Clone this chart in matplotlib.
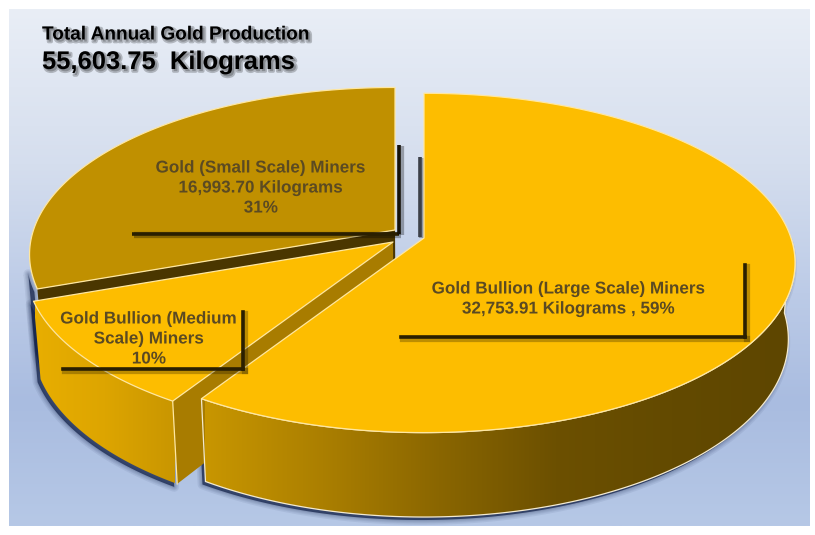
import numpy as np
import matplotlib
matplotlib.use("Agg")
import matplotlib.pyplot as plt
import matplotlib.patheffects as pe
from matplotlib.colors import LinearSegmentedColormap
from matplotlib.patches import Polygon

# production in kilograms, clockwise from twelve o'clock
miners = ["large", "medium", "small"]
kilograms = [32753.91, 5856.14, 16993.70]
title_lines = ["Total Annual Gold Production", "55,603.75  Kilograms"]
small_label = ["Gold (Small Scale) Miners", "16,993.70 Kilograms", "31%"]
medium_label = ["Gold Bullion (Medium", "Scale) Miners", "10%"]
large_label = ["Gold Bullion (Large Scale) Miners", "32,753.91 Kilograms , 59%"]

plt.rcParams["font.family"] = ["Liberation Sans", "DejaVu Sans"]

# perspective of the pie disc, in pixels
RX, RY, PERSP = 367.0, 166.0, 0.147
DEPTH = 75.0
SHRINK = 0.982
APEX = {"large": (424, 238), "medium": (393, 242), "small": (395, 230)}
SCALE = {"large": 1.0, "medium": 0.99, "small": 0.985}
PIVOT_X = 424

fig = plt.figure(figsize=(8.15, 5.35), dpi=100)
ax = fig.add_axes([0, 0, 1, 1])
ax.set_xlim(0, 815)
ax.set_ylim(535, 0)
ax.axis("off")


def top_pts(name, deg):
    apex, k = APEX[name], SCALE[name]
    a = np.radians(deg)
    x, y = np.sin(a), np.cos(a)
    w = 1 + PERSP * y
    return apex[0] + k * RX * x / w, apex[1] - k * RY * y / w


def bottom_pts(name, deg):
    apex = APEX[name]
    a = np.radians(deg)
    w = 1 + PERSP * np.cos(a)
    sx, sy = top_pts(name, deg)
    return PIVOT_X + SHRINK * (sx - PIVOT_X), sy - 0.018 * (sy - apex[1]) + DEPTH / w


def top_poly(name, a0, a1):
    sx, sy = top_pts(name, np.linspace(a0, a1, 200))
    return np.vstack([[APEX[name]], np.column_stack([sx, sy])])


def wall_poly(name, a0, a1):
    deg = np.linspace(a0, a1, 200)
    tx, ty = top_pts(name, deg)
    bx, by = bottom_pts(name, deg)
    return np.vstack([np.column_stack([tx, ty]), np.column_stack([bx, by])[::-1]])


def cut_poly(name, deg):
    apex = APEX[name]
    tx, ty = top_pts(name, deg)
    bx, by = bottom_pts(name, deg)
    a_bx = PIVOT_X + SHRINK * (apex[0] - PIVOT_X)
    a_by = apex[1] + DEPTH
    return np.array([apex, (tx, ty), (bx, by), (a_bx, a_by)])


def soft_shadow(pts, dx=-3, dy=3, color="#14234a"):
    moved = pts + np.array([dx, dy])
    for lw in [7, 5, 3.5, 2, 1]:
        ax.add_patch(Polygon(moved, closed=True, fc="none", ec=color, lw=lw,
                             alpha=0.07, joinstyle="round", zorder=1))
    ax.add_patch(Polygon(moved, closed=True, fc=color, ec="none", alpha=0.75, zorder=1))


def gradient_fill(pts, colors, x0, x1, z, edge=None):
    cmap = LinearSegmentedColormap.from_list("wall", colors)
    patch = Polygon(pts, closed=True, fc="none", ec="none")
    ax.add_patch(patch)
    im = ax.imshow(np.linspace(0, 1, 256)[None, :], cmap=cmap, aspect="auto",
                   extent=[x0, x1, 535, 0], zorder=z)
    im.set_clip_path(patch)
    if edge:
        ax.add_patch(Polygon(pts, closed=True, fc="none", ec=edge, lw=0.9, zorder=z))


def flat(pts, color, z, edge="#ffe7a0", lw=0.9):
    ax.add_patch(Polygon(pts, closed=True, fc=color, ec=edge, lw=lw, zorder=z,
                         joinstyle="round"))


# page background with white frame
bg_cmap = LinearSegmentedColormap.from_list(
    "bg", [(0, "#e9eef6"), (0.3, "#d5deee"), (0.55, "#bccbe7"),
           (0.76, "#a9bce0"), (1, "#b6c8e6")])
ax.imshow(np.linspace(0, 1, 256)[:, None], cmap=bg_cmap, aspect="auto",
          extent=[9, 810, 526, 9], zorder=0)

# sweep of each slice, worked out from the kilograms
total = sum(kilograms)
edges = np.concatenate([[0], np.cumsum(kilograms) / total * 360])
sweep = {name: (edges[i], edges[i + 1]) for i, name in enumerate(miners)}

# drop shadows under the walls that face the viewer
soft_shadow(wall_poly("small", sweep["small"][0], 256))
soft_shadow(wall_poly("medium", *sweep["medium"]))
soft_shadow(wall_poly("large", 90, sweep["large"][1]))

# small slice: cut face first, then its top
a0, a1 = sweep["small"]
ax.add_patch(Polygon(cut_poly("small", a0), closed=True, fc="#4a3600", ec="none", zorder=1.4))
flat(top_poly("small", a0, a1), "#c09000", 1.45)

# callout for the small slice sits under the next slices
for xs, ys, col, z in [
    ([420, 420], [157, 237], "#3c4048", 1.3),
    ([132, 399], [234, 234], "#2a1f00", 1.47),
    ([399, 399], [145, 234], "#15120a", 1.47),
]:
    ax.plot(xs, ys, color=col, lw=2.6, zorder=z, solid_capstyle="butt",
            path_effects=[pe.Stroke(offset=(1.5, -1), linewidth=4.5,
                                    foreground="#000000", alpha=0.3), pe.Normal()])

# medium slice
a0, a1 = sweep["medium"]
gradient_fill(wall_poly("medium", a0, a1), ["#c99600", "#dda500", "#e8ae00"], 175, 35, 1.5)
ax.add_patch(Polygon(cut_poly("medium", a0), closed=True, fc="#a87c00", ec="none", zorder=1.55))
tx, ty = top_pts("medium", a0)
bx, by = bottom_pts("medium", a0)
ax.plot([tx, bx], [ty, by], color="#ffe7a0", lw=0.9, zorder=1.6)
flat(top_poly("medium", a0, a1), "#fdbd00", 1.7)

# large slice
a0, a1 = sweep["large"]
gradient_fill(wall_poly("large", 90, a1),
              ["#5e4600", "#634a00", "#6c5000", "#8a6600", "#ab7f00", "#c89600"],
              790, 205, 1.8, edge="#f3ead0")
flat(top_poly("large", a0, a1), "#fdbd00", 2)


def shadow_text(x, y, s, size, color, shadow_alpha=0.0, ha="center"):
    effects = [pe.Normal()]
    if shadow_alpha:
        effects.insert(0, pe.Stroke(offset=(1.5, -1.5), linewidth=2.5,
                                    foreground="#000000", alpha=shadow_alpha))
    ax.text(x, y, s, fontsize=size, fontweight="bold", color=color, ha=ha, va="center",
            zorder=5, path_effects=effects)


# callouts on the front slices
for xs, ys in [([63, 243], [369, 369]), ([243, 243], [312, 369]),
               ([401, 745], [337, 337]), ([745, 745], [265, 337])]:
    ax.plot(xs, ys, color="#2a1f00", lw=2.6, zorder=3, solid_capstyle="projecting",
            path_effects=[pe.Stroke(offset=(1.5, -1.5), linewidth=4.5,
                                    foreground="#000000", alpha=0.25), pe.Normal()])

label_color = "#5b4a22"
for y, line in zip([168, 188, 208], small_label):
    shadow_text(261, y, line, 12.3, label_color)
for y, line in zip([319, 339, 359], medium_label):
    shadow_text(149, y, line, 12.3, label_color)
for y, line in zip([289, 309], large_label):
    shadow_text(569, y, line, 12.3, label_color)

shadow_text(42, 35, title_lines[0], 13.7, "#000000", 0.22, ha="left")
shadow_text(42, 62, title_lines[1], 18.4, "#000000", 0.22, ha="left")

fig.savefig("out.png", dpi=100, facecolor="white")
